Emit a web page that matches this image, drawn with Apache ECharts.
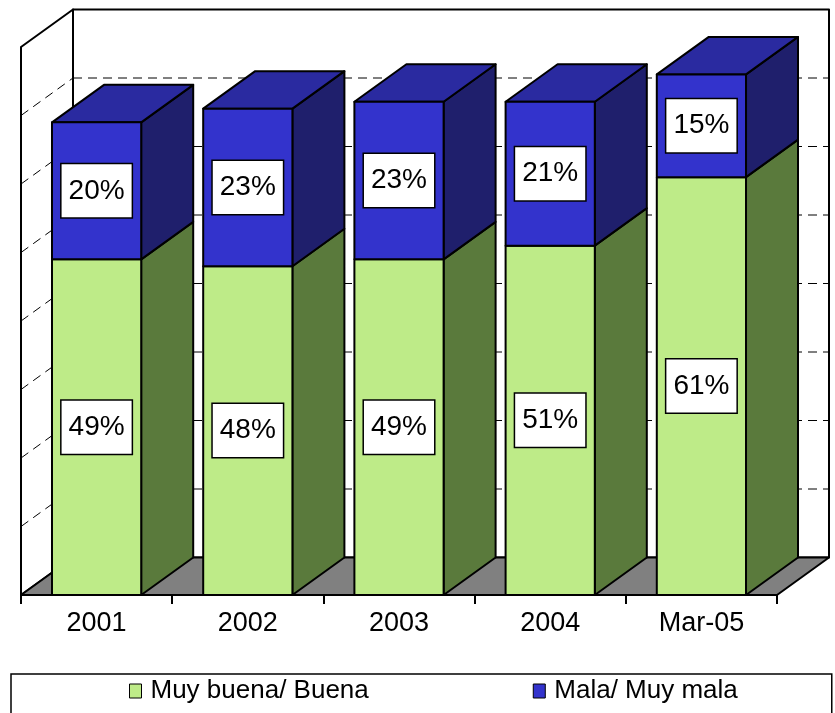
<!DOCTYPE html>
<html><head><meta charset="utf-8">
<script src="https://cdn.jsdelivr.net/npm/echarts@6/dist/echarts.min.js"></script>
<style>html,body{margin:0;padding:0;background:#fff}#c{width:835px;height:713px}</style>
</head><body><div id="c"></div>
<script>
// ---- data ----
const categories = ['2001', '2002', '2003', '2004', 'Mar-05'];
const buenaValues = [49, 48, 49, 51, 61];
const malaValues = [20, 23, 23, 21, 15];
const seriesNames = ['Muy buena/ Buena', 'Mala/ Muy mala'];
const axisMax = 80;
const axisInterval = 10;

// ---- styling ----
const DX = 52, DY = -37.5;
const BAR_RATIO = 0.59;
const FONT = '"Liberation Sans", Arial, sans-serif';
const GREEN = { front: '#BEEB88', side: '#5A7A3C', top: '#8FB862' };
const BLUE = { front: '#3333CC', side: '#1F1F6C', top: '#2A2AA0' };
const EDGE = { stroke: '#000', lineWidth: 2, lineJoin: 'round' };

function renderFrame(params, api) {
  const cs = params.coordSys;
  const x0 = cs.x, x1 = cs.x + cs.width, yb = cs.y + cs.height, yt = cs.y;
  const ch = [];
  ch.push({ type: 'polygon', shape: { points: [[x0, yb], [x0 + DX, yb + DY], [x0 + DX, yt + DY], [x0, yt]] },
    style: Object.assign({ fill: '#fff' }, EDGE) });
  ch.push({ type: 'rect', shape: { x: x0 + DX, y: yt + DY, width: cs.width, height: cs.height },
    style: Object.assign({ fill: '#fff' }, EDGE) });
  for (let v = axisInterval; v < axisMax; v += axisInterval) {
    const y = api.coord([0, v])[1];
    ch.push({ type: 'line', shape: { x1: x0, y1: y, x2: x0 + DX, y2: y + DY },
      style: { stroke: '#000', lineWidth: 1, lineDash: [9, 6] } });
    ch.push({ type: 'line', shape: { x1: x0 + DX, y1: y + DY, x2: x1 + DX, y2: y + DY },
      style: { stroke: '#000', lineWidth: 1, lineDash: [9, 6] } });
  }
  ch.push({ type: 'polygon', shape: { points: [[x0, yb], [x1, yb], [x1 + DX, yb + DY], [x0 + DX, yb + DY]] },
    style: Object.assign({ fill: '#808080' }, EDGE) });
  return { type: 'group', children: ch };
}

function makeBarRenderer(colors, drawTop) {
  return function (params, api) {
    const i = api.value(0), base = api.value(1), v = api.value(2);
    const p0 = api.coord([i, base]), p1 = api.coord([i, base + v]);
    const bw = api.size([1, 0])[0] * BAR_RATIO;
    const xl = p0[0] - bw / 2, xr = p0[0] + bw / 2;
    const yb = p0[1], yt = p1[1];
    const ch = [];
    ch.push({ type: 'polygon', shape: { points: [[xr, yb], [xr + DX, yb + DY], [xr + DX, yt + DY], [xr, yt]] },
      style: Object.assign({ fill: colors.side }, EDGE) });
    if (drawTop) {
      ch.push({ type: 'polygon', shape: { points: [[xl, yt], [xr, yt], [xr + DX, yt + DY], [xl + DX, yt + DY]] },
        style: Object.assign({ fill: colors.top }, EDGE) });
    }
    ch.push({ type: 'rect', shape: { x: xl, y: yt, width: bw, height: yb - yt },
      style: Object.assign({ fill: colors.front }, EDGE) });
    ch.push({ type: 'text', x: p0[0], y: (yb + yt) / 2,
      style: { text: Math.round(v) + '%', fontSize: 28, fontFamily: FONT, fill: '#000',
        align: 'center', verticalAlign: 'middle', backgroundColor: '#fff',
        borderColor: '#000', borderWidth: 1.5, padding: [13, 7, 12, 7] } });
    return { type: 'group', children: ch };
  };
}

const greenData = categories.map((c, i) => [i, 0, buenaValues[i]]);
const blueData = categories.map((c, i) => [i, buenaValues[i], malaValues[i]]);

const chart = echarts.init(document.getElementById('c'), null, { renderer: 'canvas', devicePixelRatio: 1 });
chart.setOption({
  animation: false,
  backgroundColor: '#fff',
  grid: { left: 21, right: 58, top: 47, bottom: 118 },
  xAxis: {
    type: 'category', data: categories,
    axisLine: { show: true, lineStyle: { color: '#000', width: 2 } },
    axisTick: { show: true, length: 9, lineStyle: { color: '#000', width: 2 } },
    axisLabel: { color: '#000', fontSize: 27, fontFamily: FONT, margin: 15 },
    splitLine: { show: false }
  },
  yAxis: {
    type: 'value', min: 0, max: axisMax, interval: axisInterval,
    show: false
  },
  legend: {
    data: seriesNames.map(n => ({ name: n, icon: 'rect' })),
    left: 11, top: 674,
    padding: [4, 94, 40, 118],
    itemGap: 164, itemWidth: 12, itemHeight: 14,
    borderColor: '#000', borderWidth: 1.5, backgroundColor: '#fff', borderRadius: 0,
    itemStyle: { borderColor: '#000', borderWidth: 1 },
    textStyle: { fontSize: 26, fontFamily: FONT, color: '#000', padding: [0, 0, 0, 4] }
  },
  series: [
    { type: 'custom', name: '__frame', silent: true, z: 1, clip: false,
      data: [[0, 0, 0]], renderItem: renderFrame, encode: { x: 0, y: 1 } },
    { type: 'custom', name: seriesNames[0], z: 2, clip: false,
      itemStyle: { color: GREEN.front }, data: greenData,
      renderItem: makeBarRenderer(GREEN, false), encode: { x: 0, y: [1, 2] } },
    { type: 'custom', name: seriesNames[1], z: 3, clip: false,
      itemStyle: { color: BLUE.front }, data: blueData,
      renderItem: makeBarRenderer(BLUE, true), encode: { x: 0, y: [1, 2] } }
  ]
});
</script>
</body></html>
